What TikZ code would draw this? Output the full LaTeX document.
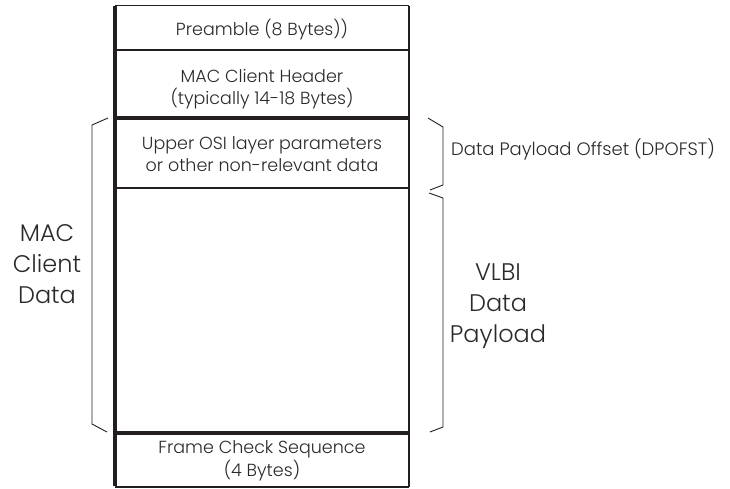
\documentclass[tikz,border=0pt]{standalone}
\usepackage{fontspec}
\setmainfont{Poppins Light}
\begin{document}
\begin{tikzpicture}[x=1pt,y=-1pt,
  ink/.style={draw=linec},
  field/.style={minimum width=294pt, inner sep=0pt, outer sep=0pt},
  ftext/.style={inner sep=0pt, align=center, text=textc, font=\fontsize{17.5}{22.5}\selectfont},
  big/.style={inner sep=0pt, align=center, text=textc, font=\fontsize{24}{31}\selectfont},
  mid/.style={inner sep=0pt, align=center, text=textc, font=\fontsize{18}{21}\selectfont},
  bracel/.style={draw=linec, line width=0.9pt, line join=miter}]
\definecolor{linec}{HTML}{231F20}
\definecolor{textc}{HTML}{2A2A2A}
\useasboundingbox (0,0) rectangle (730,489);
\node[field, minimum height=44pt] (pre) at (262,28) {};
\node[field, minimum height=68pt, anchor=north] (hdr) at (pre.south) {};
\node[field, minimum height=70pt, anchor=north] (osi) at (hdr.south) {};
\node[field, minimum height=245pt, anchor=north] (pay) at (osi.south) {};
\node[field, minimum height=54pt, anchor=north] (fcs) at (pay.south) {};
\node[ftext] (pret) at ([yshift=-2pt]pre.center) {Preamble (8 Bytes))};
\node[ftext] (hdrt) at ([yshift=-5pt]hdr.center) {MAC Client Header\\(typically 14-18 Bytes)};
\node[ftext] (osit) at ([yshift=-1pt]osi.center) {Upper OSI layer parameters\\or other non-relevant data};
\node[ftext] (fcst) at ([yshift=-1pt]fcs.center) {Frame Check Sequence\\(4 Bytes)};
% outline
\draw[ink, line width=1pt] (pre.north west) -- (pre.north east);
\draw[ink, line width=1.5pt] (pre.north east) -- (fcs.south east);
\draw[ink, line width=1.5pt] (fcs.south west) -- (fcs.south east);
\draw[ink, line width=4pt] ([yshift=-0.5pt]pre.north west) -- ([yshift=0.75pt]fcs.south west);
\draw[ink, line width=2pt] (hdr.north west) -- (hdr.north east);
\draw[ink, line width=3.5pt] (osi.north west) -- (osi.north east);
\draw[ink, line width=2pt] (pay.north west) -- (pay.north east);
\draw[ink, line width=3.5pt] (fcs.north west) -- (fcs.north east);
% braces
\coordinate (lb1) at (108,118);
\coordinate (lb2) at (92,125);
\coordinate (lb3) at (92,424);
\coordinate (lb4) at (107,432);
\draw[bracel] (lb1) -- (lb2) -- (lb3) -- (lb4);
\coordinate (ra1) at (428,118);
\coordinate (ra2) at (443,127);
\coordinate (ra3) at (443,185);
\coordinate (ra4) at (430,190);
\draw[bracel] (ra1) -- (ra2) -- (ra3) -- (ra4);
\coordinate (rb1) at (429,193);
\coordinate (rb2) at (443,198);
\coordinate (rb3) at (443,427);
\coordinate (rb4) at (430,432);
\draw[bracel] (rb1) -- (rb2) -- (rb3) -- (rb4);
% labels
\node[mid, anchor=west] (dpo) at (451,149) {Data Payload Offset (DPOFST)};
\node[big] (mcd) at (47,264) {MAC\\Client\\Data};
\node[big] (vlbi) at (498,306) {VLBI\\Data\\Payload};
\end{tikzpicture}
\end{document}
